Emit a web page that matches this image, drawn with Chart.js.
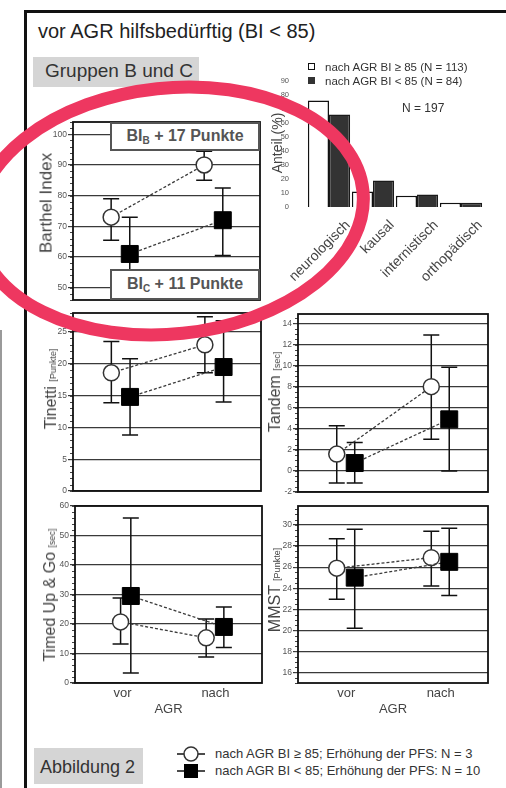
<!DOCTYPE html>
<html lang="de">
<head>
<meta charset="utf-8">
<title>Abbildung 2 – vor AGR hilfsbedürftig</title>
<script src="https://cdn.jsdelivr.net/npm/chart.js@4.4.1/dist/chart.umd.min.js"></script>
<style>
  html, body { margin:0; padding:0; background:#fff; }
  body { width:506px; height:788px; position:relative; overflow:hidden;
         font-family:"Liberation Sans", Arial, Helvetica, sans-serif; color:#333; }
  .abs { position:absolute; white-space:nowrap; }
  canvas { position:absolute; }
  #frame { left:24px; top:10px; width:620px; height:900px; border:3px solid #111; box-sizing:border-box; }
  #sideRule { left:0; top:330px; width:2px; height:460px; background:#9a9a9a; }
  #title { left:38px; top:21px; font-size:20px; line-height:20px; color:#222; }
  .tag { background:#d5d5d5; color:#333; box-sizing:border-box; }
  #groups { left:33px; top:57px; width:166px; height:30px; font-size:19px; line-height:19px; padding:4px 0 0 12px; }
  #figTag { left:34px; top:748px; width:109px; height:36px; font-size:18px; line-height:18px; padding:10px 0 0 6px; }
  .ytitle { position:absolute; transform:translate(-50%,-50%) rotate(-90deg); white-space:nowrap; color:#444; line-height:1; }
  .unit { font-size:9px; }
  .delta { position:absolute; box-sizing:border-box; background:#fff; border:2.5px solid #555; color:#555;
           font-weight:bold; font-size:16px; text-align:center; white-space:nowrap; }
  .delta sub { font-size:10px; vertical-align:-3px; line-height:0; }
  .legtxt { font-size:11.5px; line-height:14px; color:#333; }
  .keytxt { font-size:13px; line-height:16px; color:#333; }
  #ring { left:0; top:0; z-index:10; pointer-events:none; }
</style>
</head>
<body>
<div id="sideRule" class="abs"></div>
<div id="frame" class="abs"></div>

<div id="title" class="abs">vor AGR hilfsbedürftig (BI &lt; 85)</div>
<div id="groups" class="abs tag">Gruppen B und C</div>

<!-- Verteilung der Hauptdiagnosen -->
<canvas id="cCauses" width="225" height="225" style="left:281px;top:75px"></canvas>
<div class="ytitle" style="left:277px;top:143px;font-size:14px">Anteil (%)</div>
<div class="abs" style="left:308px;top:63px;width:7px;height:7px;border:1px solid #111;background:#fff;box-sizing:border-box"></div>
<div class="abs" style="left:308px;top:77px;width:7px;height:7px;background:#333"></div>
<div class="abs legtxt" style="left:325px;top:60px">nach AGR BI ≥ 85 (N = 113)</div>
<div class="abs legtxt" style="left:325px;top:74px">nach AGR BI &lt; 85 (N = 84)</div>
<div class="abs" style="left:402px;top:101px;font-size:12px;line-height:14px;color:#333">N = 197</div>

<!-- Verlaufsmessungen -->
<canvas id="cBarthel" width="219" height="190" style="left:47px;top:116px"></canvas>
<div class="ytitle" style="left:46px;top:203px;font-size:17px">Barthel Index</div>
<div class="delta" style="left:110px;top:122px;width:150px;height:29px;line-height:24px">BI<sub>B</sub> + 17 Punkte</div>
<div class="delta" style="left:110px;top:269px;width:150px;height:31px;line-height:26px">BI<sub>C</sub> + 11 Punkte</div>

<canvas id="cTinetti" width="220" height="190" style="left:47px;top:307px"></canvas>
<div class="ytitle" style="left:51px;top:389px;font-size:16px">Tinetti <span class="unit">[Punkte]</span></div>

<canvas id="cTandem" width="222" height="190" style="left:272px;top:308px"></canvas>
<div class="ytitle" style="left:275px;top:392px;font-size:16px">Tandem <span class="unit">[sec]</span></div>

<canvas id="cTug" width="219" height="217" style="left:49px;top:500px"></canvas>
<div class="ytitle" style="left:50px;top:595px;font-size:16px">Timed Up &amp; Go <span class="unit">[sec]</span></div>

<canvas id="cMmst" width="222" height="217" style="left:272px;top:500px"></canvas>
<div class="ytitle" style="left:275px;top:590px;font-size:16px">MMST <span class="unit">[Punkte]</span></div>

<!-- Fußzeile -->
<div id="figTag" class="abs tag">Abbildung 2</div>
<svg class="abs" style="left:175px;top:744px" width="32" height="36">
  <line x1="2" y1="10" x2="30" y2="10" stroke="#111" stroke-width="1.5"/>
  <circle cx="16" cy="10" r="7" fill="#fff" stroke="#333" stroke-width="1.5"/>
  <line x1="2" y1="27" x2="30" y2="27" stroke="#111" stroke-width="1.5"/>
  <rect x="9" y="20" width="14" height="14" fill="#000"/>
</svg>
<div class="abs keytxt" style="left:215px;top:746px">nach AGR BI ≥ 85; Erhöhung der PFS: N = 3</div>
<div class="abs keytxt" style="left:215px;top:763px">nach AGR BI &lt; 85; Erhöhung der PFS: N = 10</div>

<canvas id="ring" width="506" height="788"></canvas>

<script>
Chart.defaults.font.family = '"Liberation Sans", Arial, Helvetica, sans-serif';
Chart.defaults.animation = false;
Chart.defaults.events = [];
Chart.defaults.plugins.legend.display = false;
Chart.defaults.plugins.tooltip.enabled = false;

// Zeitpunkte
const phases = ['vor', 'nach'];

// Barthel Index (Mittelwert, untere und obere Fehlergrenze)
const barthelOpenMean = [73, 90];
const barthelOpenLow = [65.5, 85];
const barthelOpenHigh = [79, 94.5];
const barthelFilledMean = [61, 72];
const barthelFilledLow = [49, 60.5];
const barthelFilledHigh = [73, 82.5];

// Tinetti [Punkte]
const tinettiOpenMean = [18.6, 23.0];
const tinettiOpenLow = [13.9, 18.6];
const tinettiOpenHigh = [23.5, 27.4];
const tinettiFilledMean = [14.8, 19.5];
const tinettiFilledLow = [8.8, 14.0];
const tinettiFilledHigh = [20.8, 26.8];

// Tandem [sec]
const tandemOpenMean = [1.6, 8.0];
const tandemOpenLow = [-1.15, 3.0];
const tandemOpenHigh = [4.3, 12.9];
const tandemFilledMean = [0.75, 4.9];
const tandemFilledLow = [-1.15, 0];
const tandemFilledHigh = [2.7, 9.85];

// Timed Up & Go [sec]
const tugOpenMean = [20.7, 15.3];
const tugOpenLow = [13.2, 8.8];
const tugOpenHigh = [28.8, 21.7];
const tugFilledMean = [29.5, 19.0];
const tugFilledLow = [3.4, 12.0];
const tugFilledHigh = [55.9, 25.8];

// MMST [Punkte]
const mmstOpenMean = [25.9, 26.9];
const mmstOpenLow = [22.95, 24.2];
const mmstOpenHigh = [28.7, 29.4];
const mmstFilledMean = [25.0, 26.5];
const mmstFilledLow = [20.2, 23.3];
const mmstFilledHigh = [29.6, 29.7];

// Hauptdiagnosen, Anteil in %
const causeLabels = ['neurologisch', 'kausal', 'internistisch', 'orthopädisch'];
const shareRecovered = [76, 11, 8, 3];   // nach AGR BI >= 85
const shareDependent = [66, 19, 9, 3];   // nach AGR BI < 85

// Rahmen um die Plotfläche und kleine Zwischenstriche an der y-Achse
const plotFrame = {
  id: 'plotFrame',
  beforeDatasetsDraw(chart, args, opts) {
    const { ctx, chartArea: a, scales: { y } } = chart;
    ctx.save();
    if (opts.minor) {
      ctx.strokeStyle = '#444';
      ctx.lineWidth = 1;
      ctx.beginPath();
      const n = Math.round((y.max - y.min) / opts.minor) + 1;
      const start = Math.ceil(y.min / opts.minor - 1e-9);
      for (let k = 0; k < n; k++) {
        const v = (start + k) * opts.minor;
        if (v > y.max + 1e-9) break;
        const py = Math.round(y.getPixelForValue(v)) + 0.5;
        ctx.moveTo(a.left - 3, py);
        ctx.lineTo(a.left, py);
      }
      ctx.stroke();
    }
    ctx.strokeStyle = '#111';
    ctx.lineWidth = 1.8;
    ctx.strokeRect(a.left, a.top, a.right - a.left, a.bottom - a.top);
    ctx.restore();
  }
};

// Fehlerbalken aus errLow / errHigh der Datensätze
const errorBars = {
  id: 'errorBars',
  beforeDatasetsDraw(chart) {
    const { ctx, scales: { x, y } } = chart;
    ctx.save();
    ctx.strokeStyle = '#111';
    ctx.lineWidth = 1.5;
    chart.data.datasets.forEach(ds => {
      ds.data.forEach((pt, i) => {
        const px = x.getPixelForValue(pt.x);
        const yl = y.getPixelForValue(ds.errLow[i]);
        const yh = y.getPixelForValue(ds.errHigh[i]);
        ctx.beginPath();
        ctx.moveTo(px, yl); ctx.lineTo(px, yh);
        ctx.moveTo(px - 8, yl); ctx.lineTo(px + 8, yl);
        ctx.moveTo(px - 8, yh); ctx.lineTo(px + 8, yh);
        ctx.stroke();
      });
    });
    ctx.restore();
  }
};

function measureChart(id, spec) {
  const openSet = {
    data: spec.open.mean.map((v, i) => ({ x: i + 1 + spec.dodge.open[i], y: v })),
    errLow: spec.open.low, errHigh: spec.open.high,
    showLine: true, borderColor: '#3a3a3a', borderWidth: 1.3, borderDash: [3, 2],
    pointStyle: 'circle', pointRadius: 8,
    pointBackgroundColor: '#fff', pointBorderColor: '#333', pointBorderWidth: 1.5
  };
  const filledSet = {
    data: spec.filled.mean.map((v, i) => ({ x: i + 1 + spec.dodge.filled[i], y: v })),
    errLow: spec.filled.low, errHigh: spec.filled.high,
    showLine: true, borderColor: '#3a3a3a', borderWidth: 1.3, borderDash: [3, 2],
    pointStyle: 'rect', pointRadius: 12,
    pointBackgroundColor: '#000', pointBorderColor: '#000', pointBorderWidth: 1
  };
  return new Chart(document.getElementById(id), {
    type: 'scatter',
    data: { datasets: [filledSet, openSet] },
    options: {
      responsive: false,
      layout: { autoPadding: false, padding: { top: 6, right: 6, left: 0, bottom: spec.showX ? 0 : 6 } },
      plugins: { plotFrame: { minor: spec.minor } },
      scales: {
        x: {
          type: 'linear', min: 0.59, max: 2.6, display: spec.showX,
          afterBuildTicks: s => { s.ticks = phases.map((p, i) => ({ value: i + 1.1 })); },
          ticks: { callback: (v, i) => phases[i], color: '#444', font: { size: 13 }, padding: 3, autoSkip: false, maxRotation: 0 },
          grid: { display: false, drawTicks: false, tickLength: 0 }, border: { display: false },
          title: { display: true, text: 'AGR', color: '#444', font: { size: 13 }, padding: { top: 1, bottom: 0 } },
          afterFit: s => {
            s.height = spec.showX ? 34 : 0;
            s.paddingLeft = 0; s.paddingRight = 0;
          }
        },
        y: {
          min: spec.yMin, max: spec.yMax,
          ticks: { stepSize: spec.step, includeBounds: false, color: '#555', font: { size: 8.5 }, padding: 1 },
          grid: { color: '#3a3a3a', lineWidth: 1.2, tickLength: 5, drawTicks: true },
          border: { display: false },
          afterFit: s => { s.width = 26; s.paddingTop = 0; s.paddingBottom = 0; }
        }
      }
    },
    plugins: [plotFrame, errorBars]
  });
}

const sideBySide = { open: [0, 0], filled: [0.2, 0.2] };

measureChart('cBarthel', {
  yMin: 46, yMax: 104, step: 10, minor: 2, showX: false, dodge: sideBySide,
  open: { mean: barthelOpenMean, low: barthelOpenLow, high: barthelOpenHigh },
  filled: { mean: barthelFilledMean, low: barthelFilledLow, high: barthelFilledHigh }
});
measureChart('cTinetti', {
  yMin: 0, yMax: 28, step: 5, minor: 1, showX: false, dodge: sideBySide,
  open: { mean: tinettiOpenMean, low: tinettiOpenLow, high: tinettiOpenHigh },
  filled: { mean: tinettiFilledMean, low: tinettiFilledLow, high: tinettiFilledHigh }
});
measureChart('cTandem', {
  yMin: -2, yMax: 14.9, step: 2, minor: 0.5, showX: false, dodge: { open: [0, 0], filled: [0.19, 0.19] },
  open: { mean: tandemOpenMean, low: tandemOpenLow, high: tandemOpenHigh },
  filled: { mean: tandemFilledMean, low: tandemFilledLow, high: tandemFilledHigh }
});
measureChart('cTug', {
  yMin: 0, yMax: 60, step: 10, minor: 2, showX: true, dodge: { open: [0.08, 0], filled: [0.19, 0.19] },
  open: { mean: tugOpenMean, low: tugOpenLow, high: tugOpenHigh },
  filled: { mean: tugFilledMean, low: tugFilledLow, high: tugFilledHigh }
});
measureChart('cMmst', {
  yMin: 15, yMax: 31.8, step: 2, minor: 0.5, showX: true, dodge: { open: [0, 0], filled: [0.19, 0.19] },
  open: { mean: mmstOpenMean, low: mmstOpenLow, high: mmstOpenHigh },
  filled: { mean: mmstFilledMean, low: mmstFilledLow, high: mmstFilledHigh }
});

new Chart(document.getElementById('cCauses'), {
  type: 'bar',
  data: {
    labels: causeLabels,
    datasets: [
      { data: shareRecovered, backgroundColor: '#fff', borderColor: '#111', borderWidth: 1.5, barPercentage: 1, categoryPercentage: 0.96 },
      { data: shareDependent, backgroundColor: '#333', borderColor: '#1a1a1a', borderWidth: 1.5, barPercentage: 1, categoryPercentage: 0.96 }
    ]
  },
  options: {
    responsive: false,
    layout: { autoPadding: false, padding: { top: 6, right: 23, left: 0, bottom: 0 } },
    scales: {
      x: {
        grid: { display: false }, border: { display: false },
        ticks: { color: '#444', font: { size: 14 }, minRotation: 45, maxRotation: 45, padding: 2, labelOffset: 19, autoSkip: false },
        afterFit: s => { s.height = 93; s.paddingLeft = 0; s.paddingRight = 0; }
      },
      y: {
        min: 0, max: 90,
        ticks: { stepSize: 10, color: '#555', font: { size: 7.5 }, padding: 10 },
        grid: { display: false }, border: { display: false },
        afterFit: s => { s.width = 26; s.paddingTop = 0; s.paddingBottom = 0; }
      }
    }
  }
});

// rote Markierung um den Barthel-Index
const ring = document.getElementById('ring').getContext('2d');
ring.strokeStyle = '#ee3760';
ring.lineWidth = 13;
ring.beginPath();
ring.ellipse(170, 211, 194, 123, -6 * Math.PI / 180, 0, 2 * Math.PI);
ring.stroke();
</script>
</body>
</html>
